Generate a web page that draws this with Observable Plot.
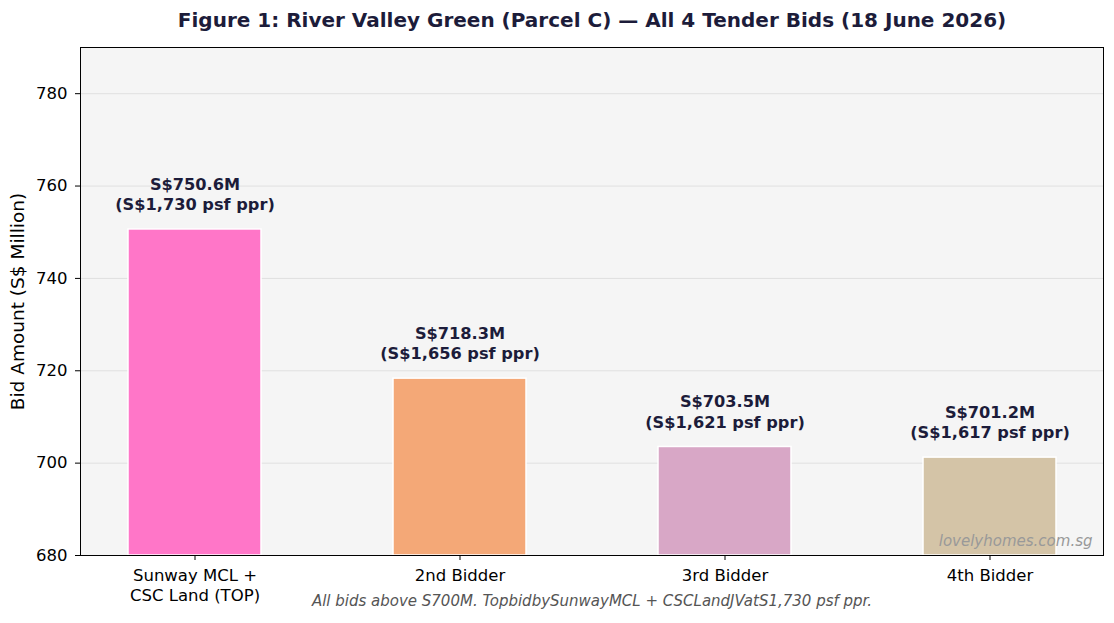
<!DOCTYPE html>
<html>
<head>
<meta charset="utf-8">
<script src="https://cdn.jsdelivr.net/npm/d3@7"></script>
<script src="https://cdn.jsdelivr.net/npm/@observablehq/plot@0.6"></script>
<style>
  html, body { margin: 0; padding: 0; background: #ffffff; }
  svg { display: block; }
</style>
</head>
<body>
<div id="chart"></div>
<script>
const bidders = ["Sunway MCL +\nCSC Land (TOP)", "2nd Bidder", "3rd Bidder", "4th Bidder"];
const amounts = [750.6, 718.3, 703.5, 701.2];
const psfPpr = [1730, 1656, 1621, 1617];
const barColors = ["#ff76c8", "#f4a877", "#d8a7c6", "#d4c4a7"];
const yTicks = [680, 700, 720, 740, 760, 780];
const titleText = "Figure 1: River Valley Green (Parcel C) \u2014 All 4 Tender Bids (18 June 2026)";
const captionText = "All bids above S700M. TopbidbySunwayMCL + CSCLandJVatS1,730 psf ppr.";
const watermark = "lovelyhomes.com.sg";

const data = bidders.map((b, i) => ({
  bidder: b,
  amount: amounts[i],
  psf: psfPpr[i],
  color: barColors[i],
  label: `S$${amounts[i].toFixed(1)}M\n(S$${d3.format(",")(psfPpr[i])} psf ppr)`
}));

const chart = Plot.plot({
  width: 1114,
  height: 623,
  marginLeft: 80,
  marginRight: 11,
  marginTop: 47,
  marginBottom: 68,
  style: { fontFamily: "DejaVu Sans, sans-serif", fontSize: "16.5px", background: "#ffffff", color: "#000" },
  x: {
    domain: bidders,
    paddingInner: 0.5,
    paddingOuter: 0.175,
    label: null
  },
  y: {
    domain: [680, 790],
    ticks: yTicks,
    label: "Bid Amount (S$ Million)"
  },
  marks: [
    Plot.frame({ fill: "#f5f5f5", stroke: null }),
    Plot.gridY(yTicks.slice(1), { stroke: "#e0e0e0", strokeOpacity: 1, strokeWidth: 1 }),
    Plot.barY(data, {
      x: "bidder",
      y1: () => 680,
      y2: "amount",
      fill: "color",
      stroke: "#ffffff",
      strokeWidth: 1.5
    }),
    Plot.text(data, {
      x: "bidder",
      y: "amount",
      text: "label",
      lineAnchor: "middle",
      dy: -36,
      lineHeight: 1.25,
      fontWeight: "bold",
      fontSize: 16.2,
      fill: "#1c1c3a"
    }),
    Plot.text([watermark], {
      frameAnchor: "bottom-right",
      text: d => d,
      lineAnchor: "middle",
      dx: -11,
      dy: -14,
      fontStyle: "italic",
      fontSize: 15,
      fill: "#999999"
    }),
    Plot.text([titleText], {
      frameAnchor: "top",
      text: d => d,
      lineAnchor: "middle",
      dy: -27,
      fontWeight: "bold",
      fontSize: 20,
      fill: "#1c1c3a"
    }),
    Plot.text([captionText], {
      frameAnchor: "bottom",
      text: d => d,
      lineAnchor: "middle",
      dy: 46,
      fontStyle: "italic",
      fontSize: 15,
      fill: "#555555"
    }),
    Plot.axisX({ tickSize: 5, tickPadding: 6, fontSize: 16.5, lineHeight: 1.22, label: null }),
    Plot.axisY({ ticks: yTicks, tickSize: 5, tickPadding: 8, fontSize: 16.5, label: null }),
    Plot.axisY({ ticks: [], tickSize: 0, label: "Bid Amount (S$ Million)", labelAnchor: "center", labelArrow: "none", labelOffset: 70, fontSize: 18.5 }),
    Plot.frame({ stroke: "#000000", strokeWidth: 1 })
  ]
});

document.getElementById("chart").appendChild(chart);
</script>
</body>
</html>
